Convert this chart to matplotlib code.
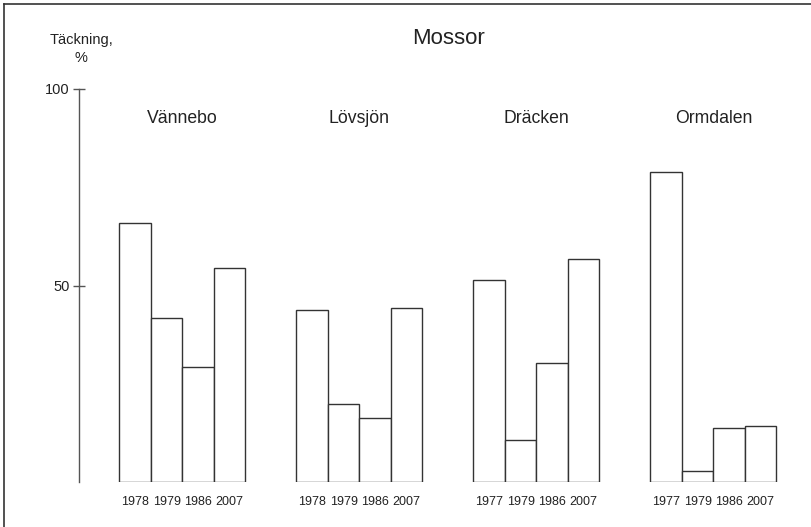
import matplotlib
matplotlib.use('Agg')
import matplotlib.pyplot as plt
from matplotlib.lines import Line2D

plt.rcParams['font.family'] = ['Liberation Sans', 'DejaVu Sans']

# data
sites = ['Vännebo', 'Lövsjön', 'Dräcken', 'Ormdalen']
years = [['1978', '1979', '1986', '2007'],
         ['1978', '1979', '1986', '2007'],
         ['1977', '1979', '1986', '2007'],
         ['1977', '1979', '1986', '2007']]
vannebo = [65.8, 41.8, 29.3, 54.5]
lovsjon = [43.8, 19.8, 16.4, 44.4]
dracken = [51.3, 10.8, 30.3, 56.8]
ormdalen = [78.8, 2.7, 13.8, 14.2]
values = [vannebo, lovsjon, dracken, ormdalen]

W, H = 811, 527
fig = plt.figure(figsize=(W / 100, H / 100), dpi=100)

# axes placed in pixel terms: y axis at x=79, baseline y=482, 100 at y=89
left_px, right_px = 79, 800
top_px, base_px = 89, 482
ax = fig.add_axes([left_px / W, (H - base_px) / H,
                   (right_px - left_px) / W, (base_px - top_px) / H])

stride = 5.62
edge = '#333333'
xt, xl = [], []
for k, site in enumerate(sites):
    xs = [k * stride + i for i in range(4)]
    ax.bar(xs, values[k], width=1.0, align='edge', facecolor='white',
           edgecolor=edge, linewidth=1.0)
    for i in range(4):
        xt.append(xs[i] + 0.5)
        xl.append(years[k][i])
    ax.text(k * stride + 2, 92.6, site, ha='center', va='center',
            fontsize=12.7, color='#222222')

ax.set_xlim(-1.28, 21.61)
ax.set_ylim(0, 100)
ax.set_xticks(xt)
ax.set_xticklabels(xl, fontsize=9, color='#222222')
ax.tick_params(axis='x', length=0, pad=10)
ax.set_yticks([50, 100])
ax.set_yticklabels(['50', '100'], fontsize=10.5, color='#222222')
ax.tick_params(axis='y', direction='inout', length=9, width=1.0,
               color='#555555', pad=2)
for s in ['top', 'right', 'bottom']:
    ax.spines[s].set_visible(False)
ax.spines['left'].set_color('#555555')
ax.spines['left'].set_linewidth(1.0)

fig.text(449 / W, 1 - 39 / H, 'Mossor', ha='center', va='center',
         fontsize=16, color='#222222')
fig.text(81 / W, 1 - 49 / H, 'Täckning,\n%', ha='center', va='center',
         fontsize=10.5, color='#222222', linespacing=1.35)

# frame lines at top and left
fig.add_artist(Line2D([4 / W, 4 / W], [0, 1 - 4 / H], transform=fig.transFigure,
                      color='#333333', linewidth=1.2))
fig.add_artist(Line2D([4 / W, 1], [1 - 4 / H, 1 - 4 / H], transform=fig.transFigure,
                      color='#333333', linewidth=1.2))

fig.savefig('out.png', dpi=100)
